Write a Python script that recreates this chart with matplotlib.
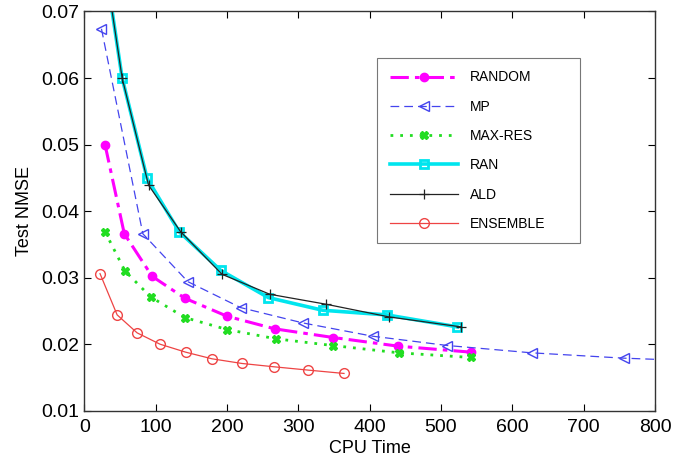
import matplotlib
matplotlib.use("Agg")
import matplotlib.pyplot as plt

plt.rcParams['font.family'] = ['Liberation Sans', 'DejaVu Sans']

random_x = [29, 56, 95, 141, 200, 267, 349, 440, 542]
random_y = [0.0500, 0.0366, 0.0302, 0.0269, 0.0242, 0.0223, 0.0210, 0.0197, 0.0188]

mp_x = [24, 82, 145, 219, 306, 404, 509, 627, 756, 880]
mp_y = [0.0674, 0.0366, 0.0294, 0.0255, 0.0232, 0.0212, 0.0198, 0.0187, 0.0179, 0.0174]

maxres_x = [29, 57, 93, 141, 200, 269, 348, 441, 542]
maxres_y = [0.0369, 0.0310, 0.0271, 0.0240, 0.0222, 0.0208, 0.0198, 0.0187, 0.0180]

ran_x = [25, 53, 88, 133, 191, 258, 334, 424, 523]
ran_y = [0.080, 0.0600, 0.0449, 0.0369, 0.0311, 0.0270, 0.0251, 0.0244, 0.0226]

ald_x = [25, 53, 90, 135, 193, 260, 339, 427, 528]
ald_y = [0.080, 0.0600, 0.0439, 0.0369, 0.0305, 0.0275, 0.0260, 0.0241, 0.0226]

ens_x = [22, 46, 74, 106, 142, 179, 221, 266, 314, 364]
ens_y = [0.0306, 0.0244, 0.0217, 0.0200, 0.0188, 0.0178, 0.0171, 0.0166, 0.0161, 0.0156]

xticks = [0, 100, 200, 300, 400, 500, 600, 700, 800]
yticks = [0.01, 0.02, 0.03, 0.04, 0.05, 0.06, 0.07]

fig = plt.figure(figsize=(6.79, 4.59), dpi=100)
ax = fig.add_axes([0.1242, 0.1052, 0.8405, 0.8698])

ax.plot(random_x, random_y, color='#ff00ff', linestyle=(0, (6, 2, 1.5, 2)), linewidth=2.2,
        marker='o', markersize=6, markerfacecolor='#ff00ff', markeredgecolor='#ff00ff', label='RANDOM')
ax.plot(mp_x, mp_y, color='#4444ee', linestyle=(0, (7, 4)), linewidth=0.9,
        marker='<', markersize=7, markerfacecolor='none', markeredgecolor='#4444ee', label='MP')
ax.plot(maxres_x, maxres_y, color='#22dd22', linestyle=(0, (1, 2.5)), linewidth=2.0,
        marker='X', markersize=6, markerfacecolor='#22dd22', markeredgecolor='#22dd22', label='MAX-RES')
ax.plot(ran_x, ran_y, color='#00e5ee', linestyle='-', linewidth=2.6,
        marker='s', markersize=5.5, markerfacecolor='none', markeredgecolor='#00e5ee',
        markeredgewidth=2, label='RAN')
ax.plot(ald_x, ald_y, color='#222222', linestyle='-', linewidth=0.9,
        marker='+', markersize=7, markeredgewidth=0.9, label='ALD')
ax.plot(ens_x, ens_y, color='#ee4444', linestyle='-', linewidth=0.9,
        marker='o', markersize=7, markerfacecolor='none', markeredgecolor='#ee4444', label='ENSEMBLE')

ax.set_xlim(0, 800)
ax.set_ylim(0.01, 0.07)
ax.set_xticks(xticks)
ax.set_yticks(yticks)
ax.set_yticklabels(['%.2f' % v for v in yticks])
ax.tick_params(direction='in', top=True, right=True, labelsize=14, length=5, width=0.8)
ax.tick_params(axis='x', pad=6)
for s in ax.spines.values():
    s.set_linewidth(1.0)
    s.set_color('#333333')

ax.set_xlabel('CPU Time', fontsize=13, labelpad=3)
ax.set_ylabel('Test NMSE', fontsize=13, labelpad=6)

# legend box spans pixels x 377..580, y 58..238
x0 = (377 - 84.3) / 570.7
y1 = 1 - (58 - 11.5) / 399.2
w = (580 - 377) / 570.7
h = (238 - 58) / 399.2
leg = ax.legend(loc='upper left', bbox_to_anchor=(x0, y1 - h, w, h), mode='expand',
                fontsize=10, frameon=True, fancybox=False, edgecolor='#555555',
                handlelength=4.9, labelspacing=1.1, borderpad=0.9, handletextpad=0.9,
                borderaxespad=0)
leg.get_frame().set_linewidth(0.8)

fig.savefig('out.png', dpi=100)
